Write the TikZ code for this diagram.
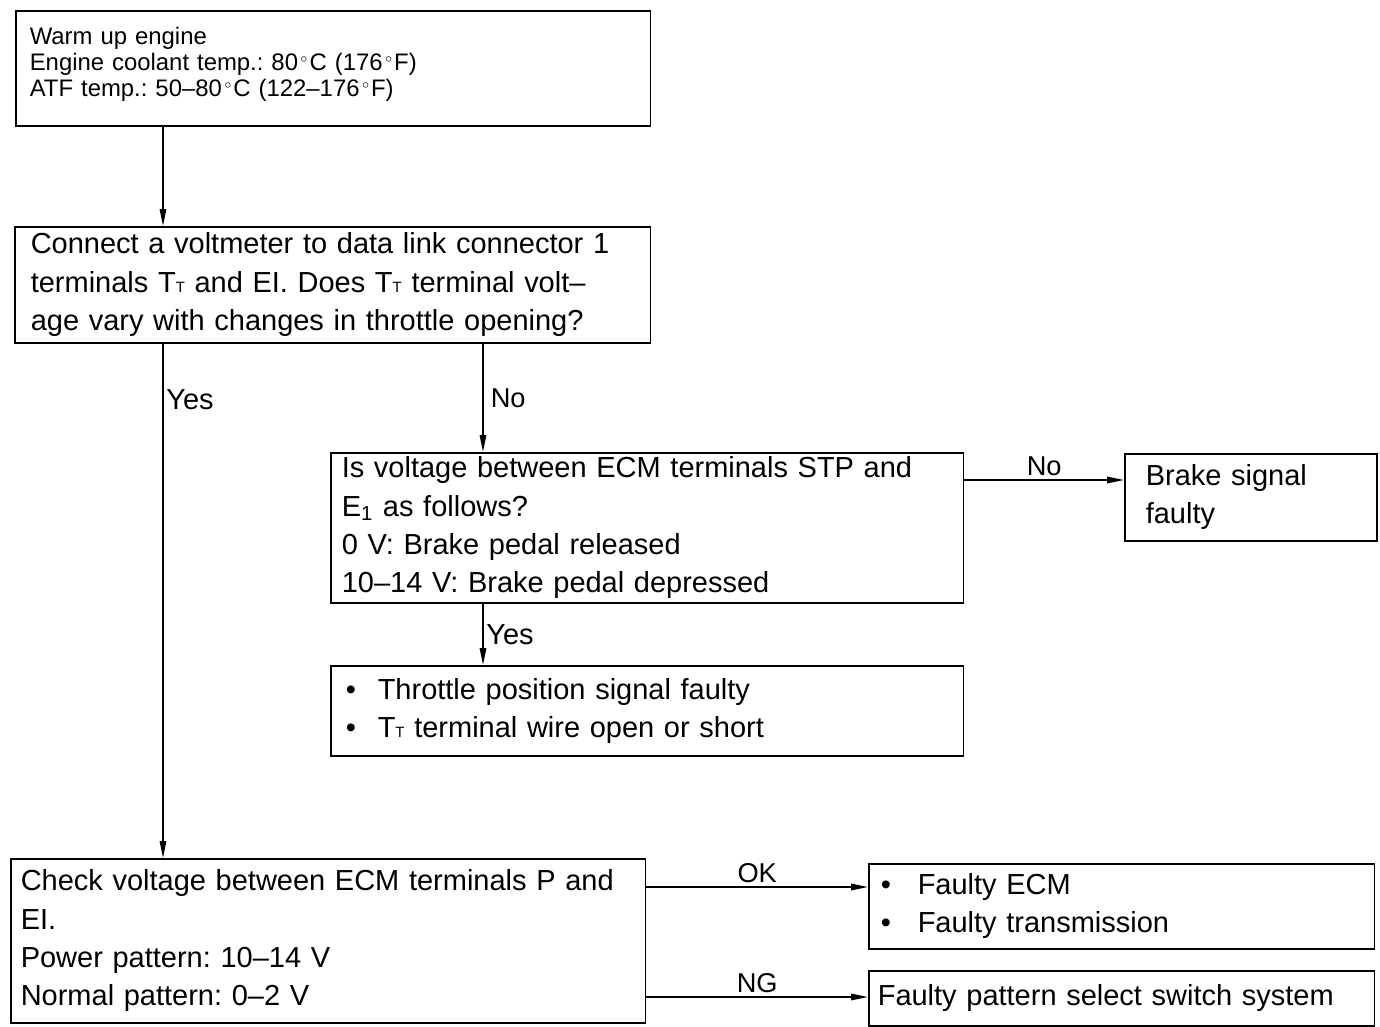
\documentclass[tikz,border=0pt]{standalone}
\usepackage{fontspec}
\setmainfont{Liberation Sans}
\usetikzlibrary{arrows.meta,positioning}
\frenchspacing

\newcommand{\boxfont}{\fontsize{16.5}{21.8}\selectfont}
\newcommand{\notefont}{\fontsize{13.6}{14.7}\selectfont}
\newcommand{\labfont}{\fontsize{15.5}{16}\selectfont}
\newcommand{\dgr}{\kern0.1em\raisebox{0.6ex}{\fontsize{7}{7}\selectfont$\circ$}\kern0.08em}
\newcommand{\Tsub}{T{\fontsize{8.5}{9}\selectfont T}}
\newcommand{\itm}[1]{\makebox[#1][l]{\textbullet}}

\begin{document}
\begin{tikzpicture}[
    x=0.02cm, y=-0.02cm,
    box/.style={draw, line width=0.9pt, anchor=north west, align=left,
                inner ysep=0pt, font=\boxfont},
    arr/.style={-{Triangle[length=3.4mm,width=1.3mm]}, line width=0.9pt},
    lbl/.style={font=\boxfont, inner xsep=1.5pt},
    lblb/.style={font=\labfont, inner sep=2pt}
]
    \useasboundingbox (0,0) rectangle (1380,1027);

    % columns and rows of the connectors
    \coordinate (lcol) at (163,0);
    \coordinate (mcol) at (483,0);
    \coordinate (brow) at (0,480);
    \coordinate (okrow) at (0,887);
    \coordinate (ngrow) at (0,997);

    \node[box, font=\notefont, text width=12.14cm, inner xsep=0.28cm, minimum height=2.3cm] (warm) at (15,10)
        {Warm up engine\\Engine coolant temp.: 80\dgr C (176\dgr F)\\ATF temp.: 50--80\dgr C (122--176\dgr F)\\[-7.2pt]\mbox{}};
    \node[box, text width=12.08cm, inner xsep=0.32cm, minimum height=2.32cm] (connect) at (14,226)
        {Connect a voltmeter to data link connector 1\\terminals \Tsub\ and EI. Does \Tsub\ terminal volt--\\age vary with changes in throttle opening?};
    \node[box, text width=12.22cm, inner xsep=0.22cm, minimum height=3.0cm] (stp) at (330,452)
        {Is voltage between ECM terminals STP and\\E\textsubscript{1} as follows?\\0 V: Brake pedal released\\10--14 V: Brake pedal depressed};
    \node[box, text width=4.2cm, inner xsep=0.42cm, minimum height=1.74cm] (brake) at (1124,453)
        {Brake signal\\faulty};
    \node[box, text width=12.06cm, inner xsep=0.3cm, minimum height=1.8cm] (tps) at (330,665)
        {\itm{0.64cm}Throttle position signal faulty\\\itm{0.64cm}\Tsub\ terminal wire open or short};
    \node[box, text width=12.3cm, inner xsep=0.2cm, minimum height=3.28cm] (check) at (10,858)
        {Check voltage between ECM terminals P and\\EI.\\Power pattern: 10--14 V\\Normal pattern: 0--2 V};
    \node[box, text width=9.64cm, inner xsep=0.24cm, minimum height=1.7cm] (ecm) at (868,863)
        {\itm{0.74cm}Faulty ECM\\\itm{0.74cm}Faulty transmission};
    \node[box, text width=9.76cm, inner xsep=0.18cm, minimum height=1.1cm] (switch) at (868,970)
        {Faulty pattern select switch system};

    \draw[arr] (lcol |- warm.south) -- (lcol |- connect.north);
    \draw[arr] (lcol |- connect.south) -- node[lbl, pos=0.11, right] {Yes} (lcol |- check.north);
    \draw[arr] (mcol |- connect.south) -- node[lblb, right, inner xsep=4pt] {No} (mcol |- stp.north);
    \draw[arr] (stp.east |- brow) -- node[lblb, above] {No} (brake.west |- brow);
    \draw[arr] (mcol |- stp.south) -- node[lbl, right] {Yes} (mcol |- tps.north);
    \draw[arr] (check.east |- okrow) -- node[lblb, above] {OK} (ecm.west |- okrow);
    \draw[arr] (check.east |- ngrow) -- node[lblb, above] {NG} (switch.west |- ngrow);
\end{tikzpicture}
\end{document}
